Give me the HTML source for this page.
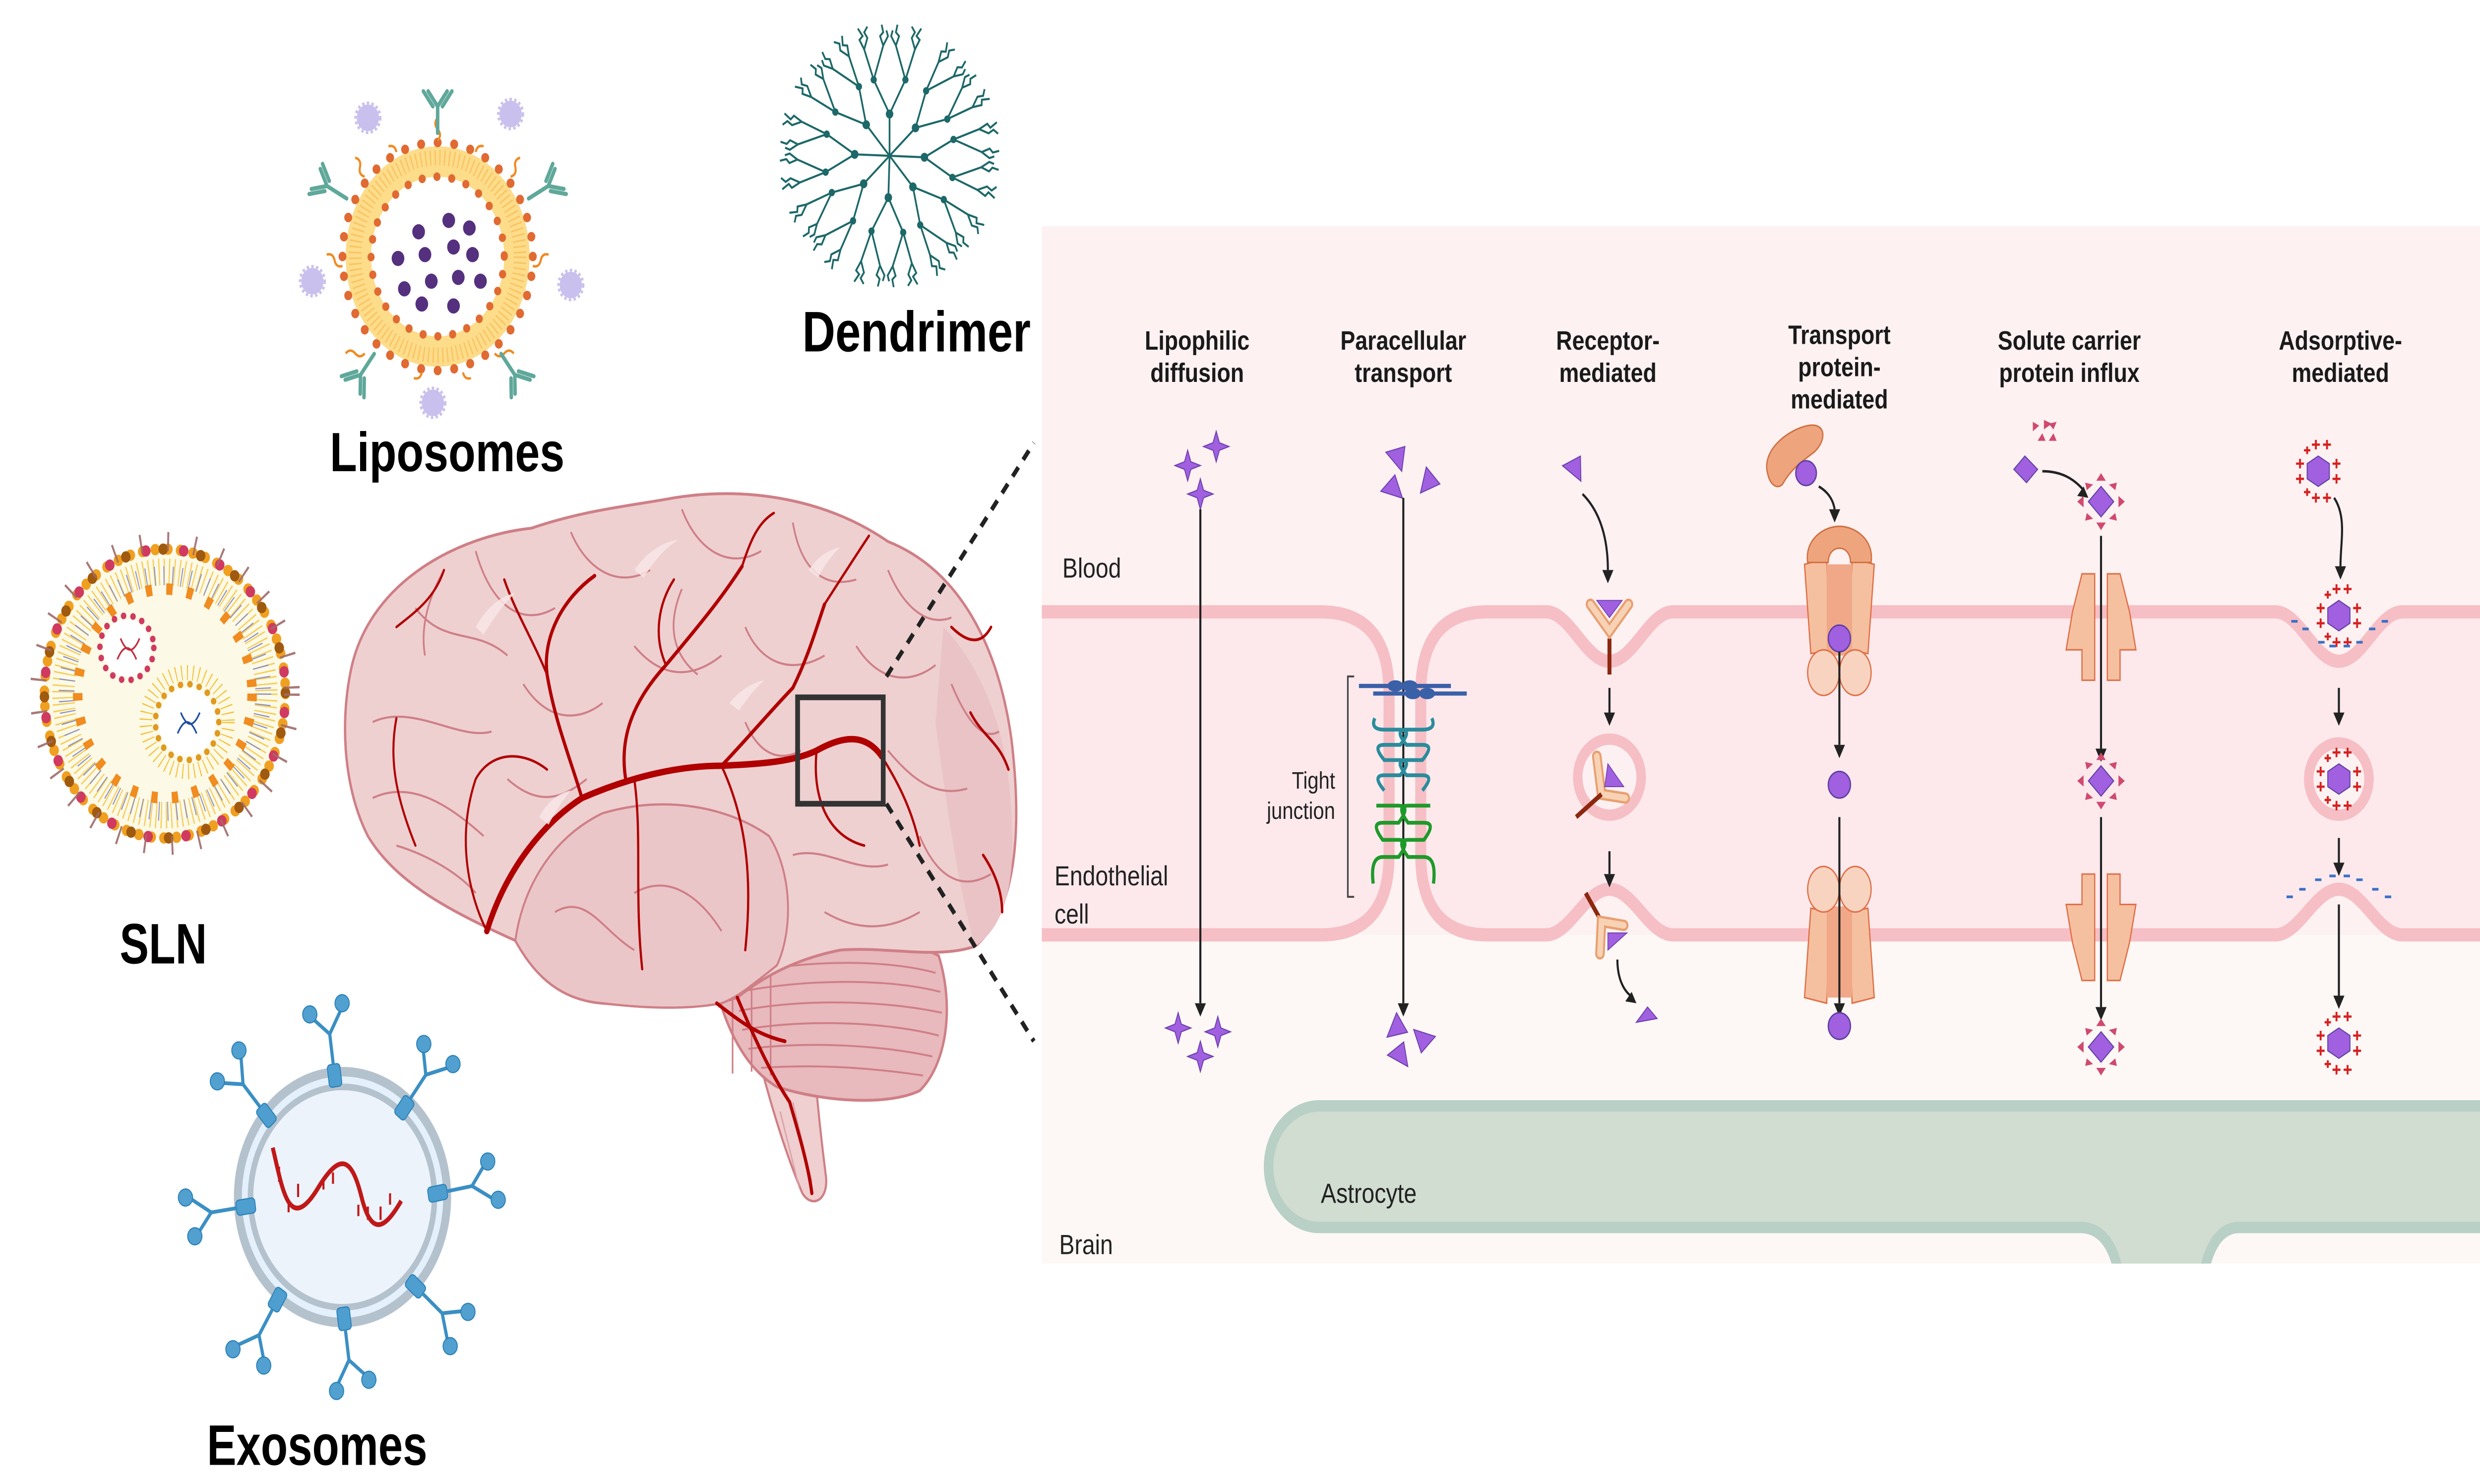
<!DOCTYPE html>
<html><head><meta charset="utf-8"><style>
html,body{margin:0;padding:0;background:#fff;overflow:hidden;width:100%;height:100%}
svg{display:block;position:fixed;left:0;top:0;width:100vw;height:100vh}
text{font-family:"Liberation Sans",sans-serif}
</style></head><body>
<svg viewBox="0 0 1564 781" preserveAspectRatio="none" xmlns="http://www.w3.org/2000/svg">
<defs>
<clipPath id="pc"><rect x="657" y="119" width="907" height="546"/></clipPath>
<polygon id="star" points="0,-8 2,-2 8,0 2,2 0,8 -2,2 -8,0 -2,-2" fill="#a060e0" stroke="#7040b0" stroke-width="0.6"/>
<path id="tri" d="M-6,-4 L6,-7 L4,6 Z" fill="#a060e0" stroke="#7040b0" stroke-width="0.6"/>
<path id="ab" d="M0,0 V-14 M0,-14 L-6,-22 M0,-14 L6,-22 M-3,-14 L-9,-22 M3,-14 L9,-22" stroke="#5fa89a" stroke-width="2.2" fill="none" stroke-linecap="round"/>
<g id="puff"><circle r="7" fill="#c9c0ee"/><circle r="7.8" fill="none" stroke="#c9c0ee" stroke-width="1.5" stroke-dasharray="1.5 1.5"/></g>
<g id="exr"><rect x="-4" y="-6" width="8" height="12" rx="2" fill="#4e9fcf" stroke="#2a80b8" stroke-width="0.6"/><path d="M0,-6 V-22 L-10,-32 M0,-22 L9,-34" stroke="#3a8fc4" stroke-width="2" fill="none"/><circle cx="-11" cy="-34" r="4.5" fill="#52a0cf" stroke="#2a80b8" stroke-width="0.6"/><circle cx="10" cy="-37" r="4.5" fill="#52a0cf" stroke="#2a80b8" stroke-width="0.6"/></g>
<g id="dbr" stroke="#1d6868" stroke-width="1.1" fill="none">
<path d="M0,0 L0,-22 L-10,-40 L-16,-56 M-10,-40 L-4,-58 M0,-22 L10,-40 L16,-56 M10,-40 L4,-58"/>
<path d="M-16,-56 l-3,-5 l2,-2 l-3,-4 M-16,-56 l2,-6 l-2,-3 l2,-3 M-4,-58 l-2,-5 l2,-2 l-1,-4 M-4,-58 l3,-5 l-1,-3 M16,-56 l3,-5 l-2,-2 l3,-4 M16,-56 l-2,-6 l2,-3 l-2,-3 M4,-58 l2,-5 l-2,-2 l1,-4 M4,-58 l-3,-5 l1,-3"/>
<circle cx="0" cy="-22" r="1.8" fill="#1d6868"/><circle cx="-10" cy="-40" r="1.4" fill="#1d6868"/><circle cx="10" cy="-40" r="1.4" fill="#1d6868"/>
</g>
<g id="dia"><path d="M0,-8 L8,0 L0,8 L-8,0 Z" fill="#a060e0" stroke="#6040a0" stroke-width="0.6"/><g fill="#d04a70"><path d="M0,-15 l3,4 h-6z"/><path d="M0,15 l3,-4 h-6z"/><path d="M-15,0 l4,3 v-6z"/><path d="M15,0 l-4,3 v-6z"/><path d="M-10,-10 l5,1 l-4,3z"/><path d="M10,-10 l-5,1 l4,3z"/><path d="M-10,10 l5,-1 l-4,-3z"/><path d="M10,10 l-5,-1 l4,-3z"/></g></g>
<g id="hex"><path d="M0,-8 L7,-4 L7,4 L0,8 L-7,4 L-7,-4 Z" fill="#a060e0" stroke="#6040a0" stroke-width="0.6"/><g stroke="#d82020" stroke-width="1.2"><path d="M-4,-14 h5 M-1.5,-16.5 v5 M3,-14 h5 M5.5,-16.5 v5 M-4,14 h5 M-1.5,11.5 v5 M3,14 h5 M5.5,11.5 v5 M-14,-4 h5 M-11.5,-6.5 v5 M-14,4 h5 M-11.5,1.5 v5 M9,-4 h5 M11.5,-6.5 v5 M9,4 h5 M11.5,1.5 v5 M-9,-11 h4 M-7,-13 v4 M-9,11 h4 M-7,9 v4"/></g></g>
<path id="ah" d="M-3.5,-6 L3.5,-6 L0,1 Z" fill="#222"/>
<g id="tpt"><path d="M-22,-35 L-8,-38 L-6,10 L-18,12 Z" fill="#f5c0a0" stroke="#e07048" stroke-width="0.8"/><path d="M22,-35 L8,-38 L6,10 L18,12 Z" fill="#f5c0a0" stroke="#e07048" stroke-width="0.8"/><rect x="-8" y="-35" width="16" height="48" fill="#f0a888"/><ellipse cx="-10" cy="22" rx="10" ry="12" fill="#f8d4c0" stroke="#e07048" stroke-width="0.8"/><ellipse cx="10" cy="22" rx="10" ry="12" fill="#f8d4c0" stroke="#e07048" stroke-width="0.8"/></g>
<path id="slc" d="M-12,-28 H-4 V28 H-12 V12 H-22 L-18,-8 Z M12,-28 H4 V28 H12 V12 H22 L18,-8 Z" fill="#f5c0a0" stroke="#e07048" stroke-width="0.8"/>
</defs>

<!-- Liposome -->
<g>
<circle cx="276" cy="135" r="58" fill="#fddc8a"/>
<circle cx="276" cy="135" r="52" fill="none" stroke="#f6b44a" stroke-width="8" stroke-dasharray="0.8 2.2" opacity="0.6"/>
<circle cx="276" cy="135" r="42" fill="#fff"/>
<circle cx="276" cy="135" r="60" fill="none" stroke="#e06a32" stroke-width="5" stroke-linecap="round" stroke-dasharray="0 10.47"/>
<circle cx="276" cy="135" r="42" fill="none" stroke="#e06a32" stroke-width="4.5" stroke-linecap="round" stroke-dasharray="0 9.4"/>
<g fill="#55307e"><circle cx="264" cy="122" r="4"/><circle cx="283" cy="116" r="4"/><circle cx="296" cy="120" r="4"/><circle cx="251" cy="136" r="4"/><circle cx="268" cy="134" r="4"/><circle cx="286" cy="130" r="4"/><circle cx="298" cy="134" r="4"/><circle cx="255" cy="152" r="4"/><circle cx="272" cy="148" r="4"/><circle cx="289" cy="146" r="4"/><circle cx="303" cy="148" r="4"/><circle cx="266" cy="160" r="4"/><circle cx="286" cy="161" r="4"/></g>
<g fill="none" stroke="#f08a20" stroke-width="1.3"><path d="M276,74 q3,-3 0,-6 q-3,-3 0,-6"/><path d="M322,93 q4,-1 3,-5 q-1,-4 3,-5"/><path d="M336,140 q4,1 5,-3 q1,-4 5,-3"/><path d="M312,186 q3,3 6,0 q3,-3 6,0"/><path d="M230,186 q-3,3 -6,0 q-3,-3 -6,0"/><path d="M216,140 q-4,1 -5,-3 q-1,-4 -5,-3"/><path d="M230,93 q-4,-1 -3,-5 q1,-4 -3,-5"/><path d="M250,80 q-1,-4 -5,-3"/><path d="M300,80 q1,-4 5,-3"/><path d="M266,196 q-1,4 -5,3"/><path d="M292,196 q1,4 5,3"/></g>
<use href="#ab" transform="translate(276,70)"/>
<use href="#ab" transform="rotate(-62 276 135) translate(276,70)"/>
<use href="#ab" transform="rotate(62 276 135) translate(276,70)"/>
<use href="#ab" transform="rotate(-142 276 135) translate(276,70)"/>
<use href="#ab" transform="rotate(142 276 135) translate(276,70)"/>
<use href="#puff" x="232" y="62"/><use href="#puff" x="322" y="60"/><use href="#puff" x="197" y="148"/><use href="#puff" x="360" y="150"/><use href="#puff" x="273" y="212"/>
<text x="282" y="248" font-size="29" font-weight="bold" text-anchor="middle" textLength="148" lengthAdjust="spacingAndGlyphs">Liposomes</text>
</g>

<!-- Dendrimer -->
<g>
<use href="#dbr" transform="translate(561,82) rotate(0)"/>
<use href="#dbr" transform="translate(561,82) rotate(48)"/>
<use href="#dbr" transform="translate(561,82) rotate(92)"/>
<use href="#dbr" transform="translate(561,82) rotate(138)"/>
<use href="#dbr" transform="translate(561,82) rotate(182)"/>
<use href="#dbr" transform="translate(561,82) rotate(228)"/>
<use href="#dbr" transform="translate(561,82) rotate(272)"/>
<use href="#dbr" transform="translate(561,82) rotate(318)"/>
<text x="578" y="185" font-size="30" font-weight="bold" text-anchor="middle" textLength="144" lengthAdjust="spacingAndGlyphs">Dendrimer</text>
</g>

<!-- SLN -->
<g>
<circle cx="104" cy="365" r="76" fill="#fcf9e6"/>
<circle cx="104" cy="365" r="64" fill="none" stroke="#f5c030" stroke-width="14" stroke-dasharray="0.7 2.5" opacity="0.8"/>
<circle cx="104" cy="365" r="62" fill="none" stroke="#8890c8" stroke-width="10" stroke-dasharray="0.6 5" />
<circle cx="104" cy="365" r="76" fill="none" stroke="#f0a020" stroke-width="6" stroke-linecap="round" stroke-dasharray="0 8"/>
<circle cx="104" cy="365" r="76" fill="none" stroke="#a05a10" stroke-width="6" stroke-linecap="round" stroke-dasharray="0 24" stroke-dashoffset="3"/>
<circle cx="104" cy="365" r="76" fill="none" stroke="#d03a60" stroke-width="6" stroke-linecap="round" stroke-dasharray="0 24" stroke-dashoffset="14"/>
<circle cx="104" cy="365" r="55" fill="none" stroke="#f08c20" stroke-width="6" stroke-dasharray="4 9"/>
<circle cx="104" cy="365" r="80" fill="none" stroke="#a06a6a" stroke-width="10" stroke-dasharray="1.2 16" opacity="0.9"/>
<circle cx="80" cy="341" r="15" fill="#fff"/><circle cx="80" cy="341" r="17" fill="none" stroke="#d03a60" stroke-width="3.5" stroke-linecap="round" stroke-dasharray="0 6"/>
<circle cx="118" cy="380" r="18" fill="#fff"/><circle cx="118" cy="380" r="20" fill="none" stroke="#e09a20" stroke-width="3.5" stroke-linecap="round" stroke-dasharray="0 6"/>
<circle cx="118" cy="380" r="26" fill="none" stroke="#f5c030" stroke-width="8" stroke-dasharray="0.6 3"/>
<path d="M74,347 q6,-12 12,0 M76,336 q6,12 12,0" stroke="#c03040" stroke-width="1" fill="none"/>
<path d="M112,386 q6,-12 12,0 M114,375 q6,12 12,0" stroke="#2050a0" stroke-width="1" fill="none"/>
<text x="103" y="507" font-size="30" font-weight="bold" text-anchor="middle" textLength="55" lengthAdjust="spacingAndGlyphs">SLN</text>
</g>

<!-- Exosome -->
<g>
<circle cx="216" cy="630" r="66" fill="#e4f0fc" stroke="#b4c2ce" stroke-width="5"/>
<circle cx="216" cy="630" r="58" fill="#ecf3fb" stroke="#b4c2ce" stroke-width="3.5"/>
<path d="M172,604 C178,625 182,650 200,626 C215,605 222,610 228,630 C234,650 242,648 253,632" stroke="#c01818" stroke-width="2.5" fill="none"/>
<path d="M176,614 v8 M182,632 v6 M188,630 v-7 M204,620 v6 M210,617 v6 M226,634 v6 M232,642 v-7 M240,642 v-7 M246,634 v-6" stroke="#c01818" stroke-width="1.3"/>
<use href="#exr" transform="translate(211,566) rotate(-8)"/>
<use href="#exr" transform="translate(255,583) rotate(38)"/>
<use href="#exr" transform="translate(276,628) rotate(80)"/>
<use href="#exr" transform="translate(262,677) rotate(130)"/>
<use href="#exr" transform="translate(217,694) rotate(172)"/>
<use href="#exr" transform="translate(175,684) rotate(212)"/>
<use href="#exr" transform="translate(155,635) rotate(262)"/>
<use href="#exr" transform="translate(168,587) rotate(318)"/>
<text x="200" y="771" font-size="30" font-weight="bold" text-anchor="middle" textLength="139" lengthAdjust="spacingAndGlyphs">Exosomes</text>
</g>

<!-- Brain -->
<g>
<!-- brainstem -->
<path d="M478,555 C488,588 498,612 506,628 C512,636 522,632 521,620 C518,600 516,585 514,565 Z" fill="#efcfd0" stroke="#cf7f86" stroke-width="1.3"/>
<path d="M492,585 L504,625 M500,580 L512,622" stroke="#dca0a6" stroke-width="0.8"/>
<!-- cerebellum -->
<path d="M448,505 C480,490 560,488 592,503 C602,530 597,560 580,574 C560,582 520,580 490,572 C470,562 455,540 448,505 Z" fill="#e8b9bd" stroke="#cf7f86" stroke-width="1.5"/>
<g fill="none" stroke="#cf7f86" stroke-width="1"><path d="M470,512 C510,505 560,505 590,512"/><path d="M466,522 C510,515 560,515 593,522"/><path d="M466,532 C510,525 560,527 594,533"/><path d="M468,542 C510,536 560,538 592,545"/><path d="M472,552 C510,548 555,550 588,556"/><path d="M480,562 C515,560 550,562 582,566"/><path d="M462,505 v60 M474,502 v62 M486,500 v66"/></g>
<!-- cerebrum -->
<path d="M222,350 C235,305 290,282 335,278 C370,268 400,266 425,262 C470,256 520,262 560,285 C605,300 630,340 638,390 C645,440 640,480 615,498 C590,505 560,498 530,500 C500,505 480,515 465,525 C440,532 410,530 380,528 C350,526 335,510 325,495 C285,480 250,465 232,440 C215,412 215,375 222,350 Z" fill="#eed0d1" stroke="#cf7f86" stroke-width="1.5"/>
<path d="M325,495 C330,465 350,440 380,428 C420,418 460,425 485,440 C500,460 500,490 490,508 C475,518 465,525 455,528 C430,532 400,530 380,528 C350,526 335,510 325,495 Z" fill="#ebc6c8" stroke="#cf7f86" stroke-width="1.2"/>
<path d="M595,330 C618,350 632,380 636,410 C642,455 638,485 615,498 C605,470 596,420 590,380 Z" fill="#e9c3c6"/>
<g fill="none" stroke="#cf7f86" stroke-width="1.1">
<path d="M262,320 C280,340 300,330 320,345 M300,290 C310,320 330,330 350,320 M360,280 C370,300 390,310 410,300 M430,268 C440,290 460,300 480,290 M500,275 C505,300 520,310 540,305 M560,300 C570,320 585,330 600,325"/>
<path d="M235,380 C260,370 290,390 310,385 M330,360 C345,380 365,380 380,370 M400,340 C420,360 440,355 455,345 M470,330 C480,350 500,355 520,345 M540,340 C555,360 575,360 590,350"/>
<path d="M235,420 C260,410 285,425 305,440 M320,410 C340,425 355,420 370,410 M470,380 C480,400 495,400 505,395 M560,395 C575,410 590,420 610,415 M600,360 C610,380 620,390 630,385"/>
<path d="M400,470 C420,460 440,470 455,490 M500,450 C520,445 540,460 560,455 M580,440 C590,460 605,470 625,460 M520,480 C540,490 560,490 580,480 M350,480 C370,470 380,490 400,500"/>
<path d="M250,445 C270,450 290,460 300,470 M280,300 C270,315 265,330 268,345 M430,310 C420,330 425,345 440,355"/>
</g>
<g fill="none" stroke="#b00000" stroke-linecap="round">
<path d="M307,490 C320,455 345,432 367,420 C400,408 430,403 455,403 C480,402 500,401 515,395 C530,388 545,385 556,398" stroke-width="3.4"/>
<path d="M367,420 C360,400 350,380 345,355 C342,335 355,315 375,303 M395,412 C390,390 398,370 420,350 C440,330 455,315 468,298 M455,403 C470,390 485,375 500,362 C510,345 515,330 520,318" stroke-width="2"/>
<path d="M345,355 C335,335 325,322 318,305 M420,350 C412,335 415,318 425,305 M468,298 C473,285 478,275 488,270 M520,318 C530,305 540,292 548,282" stroke-width="1.4"/>
<path d="M307,490 C295,470 288,440 300,410 C310,395 330,395 345,405 M262,445 C250,420 245,400 250,378 M250,330 C262,322 274,315 280,300" stroke-width="1.3"/>
<path d="M400,410 C405,440 400,470 405,510 M455,403 C470,430 475,460 470,500 M515,395 C512,420 522,440 545,445 M556,398 C565,410 575,425 580,445" stroke-width="1.4"/>
<path d="M452,528 C470,540 480,545 495,548 M465,525 C480,555 490,570 498,580 C505,600 510,615 512,628" stroke-width="2"/>
<path d="M600,330 C612,340 620,338 625,330 M612,375 C620,388 630,390 636,405 M620,450 C628,460 632,470 632,480" stroke-width="1.5"/>
</g>
<g fill="#f8e6e6" opacity="0.85"><path d="M300,330 q10,-15 25,-18 q-10,8 -20,22z"/><path d="M400,300 q12,-14 28,-16 q-12,6 -22,20z"/><path d="M340,430 q8,-12 20,-14 q-8,8 -14,18z"/><path d="M460,370 q10,-10 22,-12 q-8,6 -16,16z"/><path d="M510,300 q8,-10 20,-12 q-8,6 -14,16z"/></g>
<rect x="503" y="367" width="54" height="56" fill="none" stroke="#333" stroke-width="3"/>
<path d="M559,356 L652,233 M559,423 L652,548" stroke="#222" stroke-width="2.5" stroke-dasharray="6 5"/>
</g>

<!-- Right panel -->
<g clip-path="url(#pc)">
<rect x="657" y="119" width="907" height="546" fill="#fdf1f2"/>
<rect x="657" y="492" width="907" height="173" fill="#fdf8f5"/>
<path d="M640,322 H833 Q876,322 876,365 V450 Q876,492 833,492 H640 Z" fill="#fde9ec" stroke="#f6bfc5" stroke-width="7"/>
<path d="M1580,322 H1515 C1500,322 1490,348 1475,348 C1460,348 1450,322 1435,322 H1055 C1040,322 1030,348 1015,348 C1000,348 990,322 975,322 H938 Q896,322 896,365 V450 Q896,492 938,492 H975 C990,492 1000,468 1015,468 C1030,468 1040,492 1055,492 H1435 C1450,492 1460,468 1475,468 C1490,468 1500,492 1515,492 H1580 Z" fill="#fde9ec" stroke="#f6bfc5" stroke-width="7"/>
<path d="M832,582 H1580 V646 H1412 C1398,646 1392,660 1390,670 H1336 C1334,660 1328,646 1312,646 H832 A32,32 0 0 1 832,582 Z" fill="#d0ddd0" stroke="#b8d0c6" stroke-width="6"/>
</g>

<g font-size="14.5" fill="#222">
<text x="670" y="304">Blood</text>
<text x="665" y="466">Endothelial</text><text x="665" y="486">cell</text>
<text x="668" y="660">Brain</text>
<text x="833" y="633">Astrocyte</text>
<text x="842" y="415" font-size="12.5" text-anchor="end">Tight</text><text x="842" y="431" font-size="12.5" text-anchor="end">junction</text>
</g>
<g font-size="14" font-weight="bold" fill="#1a1a1a" text-anchor="middle">
<text x="755" y="184">Lipophilic</text><text x="755" y="201">diffusion</text>
<text x="885" y="184">Paracellular</text><text x="885" y="201">transport</text>
<text x="1014" y="184">Receptor-</text><text x="1014" y="201">mediated</text>
<text x="1160" y="181">Transport</text><text x="1160" y="198">protein-</text><text x="1160" y="215">mediated</text>
<text x="1305" y="184">Solute carrier</text><text x="1305" y="201">protein influx</text>
<text x="1476" y="184">Adsorptive-</text><text x="1476" y="201">mediated</text>
</g>

<!-- Lipophilic -->
<use href="#star" x="767" y="235"/><use href="#star" x="749" y="245"/><use href="#star" x="757" y="260"/>
<line x1="757" y1="268" x2="757" y2="528" stroke="#222" stroke-width="1.3"/><use href="#ah" x="757" y="534"/>
<use href="#star" x="743" y="541"/><use href="#star" x="768" y="543"/><use href="#star" x="757" y="556"/>

<!-- Paracellular -->
<use href="#tri" x="880" y="242"/><use href="#tri" x="899" y="253" transform="rotate(60 899 253)"/><use href="#tri" x="878" y="259" transform="rotate(-30 878 259)"/>
<line x1="885" y1="262" x2="885" y2="528" stroke="#222" stroke-width="1.3"/><use href="#ah" x="885" y="534"/>
<use href="#tri" x="879" y="540" transform="rotate(70 879 540)"/><use href="#tri" x="898" y="545" transform="rotate(150 898 545)"/><use href="#tri" x="882" y="557" transform="rotate(-20 882 557)"/>
<path d="M854,356 H850 V472 H854" fill="none" stroke="#444" stroke-width="1"/>
<path d="M857,361 H915 M866,365 H925" stroke="#3a60a8" stroke-width="2.2"/>
<g fill="#3a60a8"><ellipse cx="880" cy="361" rx="5" ry="3"/><ellipse cx="889" cy="361" rx="5" ry="3"/><ellipse cx="891" cy="365" rx="5" ry="3"/><ellipse cx="900" cy="365" rx="5" ry="3"/></g>
<path d="M867,378 q-3,6 6,6 h10 q8,0 0,8 h-10 q-8,0 0,8 h10 q8,0 0,8 h-10 q-8,0 0,8 M903,378 q3,6 -6,6 h-10 q-8,0 0,8 h10 q8,0 0,8 h-10 q-8,0 0,8 h10 q8,0 0,8" fill="none" stroke="#2a8c9c" stroke-width="2"/>
<path d="M868,424 h14 q8,0 0,9 h-10 q-8,0 0,9 h10 q8,0 0,9 h-10 q-8,0 -6,14 M902,424 h-14 q-8,0 0,9 h10 q8,0 0,9 h-10 q-8,0 0,9 h10 q8,0 6,14" fill="none" stroke="#1e9a2a" stroke-width="2"/>

<!-- Receptor -->
<use href="#tri" x="992" y="248" transform="rotate(-10 992 248)"/>
<path d="M998,260 C1010,270 1014,285 1014,300" fill="none" stroke="#222" stroke-width="1.3"/><use href="#ah" x="1014" y="306"/>
<path d="M1015,336 V355" stroke="#8c2810" stroke-width="2.5"/>
<path d="M1003,318 L1015,332 L1027,318" fill="none" stroke="#e8a070" stroke-width="6" stroke-linecap="round"/><path d="M1003,318 L1015,332 L1027,318" fill="none" stroke="#f8d2b4" stroke-width="3.5" stroke-linecap="round"/>
<path d="M1007,316 H1023 L1015,325 Z" fill="#a060e0" stroke="#7040b0" stroke-width="0.5"/>
<line x1="1015" y1="362" x2="1015" y2="376" stroke="#222" stroke-width="1.3"/><use href="#ah" x="1015" y="381"/>
<circle cx="1015" cy="409" r="20" fill="#fdf0f2" stroke="#f6bfc5" stroke-width="6"/>
<path d="M1007,398 L1010,418 L1025,420" fill="none" stroke="#e8a070" stroke-width="6" stroke-linecap="round"/><path d="M1007,398 L1010,418 L1025,420" fill="none" stroke="#f8d2b4" stroke-width="3.5" stroke-linecap="round"/>
<path d="M1014,402 L1024,414 L1012,414 Z" fill="#a060e0" stroke="#7040b0" stroke-width="0.5"/>
<path d="M1010,418 L994,430" stroke="#8c2810" stroke-width="2.5"/>
<line x1="1015" y1="448" x2="1015" y2="460" stroke="#222" stroke-width="1.3"/><use href="#ah" x="1015" y="466"/>
<path d="M1000,470 L1010,485" stroke="#8c2810" stroke-width="2.5"/>
<path d="M1009,502 L1010,485 L1024,487" fill="none" stroke="#e8a070" stroke-width="6" stroke-linecap="round"/><path d="M1009,502 L1010,485 L1024,487" fill="none" stroke="#f8d2b4" stroke-width="3.5" stroke-linecap="round"/>
<path d="M1014,491 L1026,491 L1014,500 Z" fill="#a060e0" stroke="#7040b0" stroke-width="0.5"/>
<path d="M1020,505 C1020,515 1024,522 1030,525" fill="none" stroke="#222" stroke-width="1.3"/><path d="M1032,528 l-7,-1 l4,-5z" fill="#222"/>
<path d="M1032,538 L1045,536 L1039,530 Z" fill="#a060e0" stroke="#7040b0" stroke-width="0.6"/>

<!-- Transport protein -->
<path d="M1115,250 C1110,237 1128,226 1140,224 C1152,222 1152,232 1144,238 C1138,242 1130,246 1124,255 C1120,258 1116,254 1115,250 Z" fill="#eea57e" stroke="#d07040" stroke-width="0.8"/>
<circle cx="1139" cy="249" r="6.5" fill="#a060e0" stroke="#6040a0" stroke-width="0.8"/>
<path d="M1147,256 C1153,259 1156,263 1157,268" fill="none" stroke="#222" stroke-width="1.3"/><use href="#ah" x="1157" y="274"/>
<use href="#tpt" x="1160" y="332"/>
<path d="M1140,296 C1138,284 1150,277 1160,277 C1170,277 1182,284 1180,296 H1167 C1167,286 1153,286 1153,296 Z" fill="#eea57e" stroke="#d07040" stroke-width="0.8"/>
<circle cx="1160" cy="336" r="7" fill="#a060e0" stroke="#6040a0" stroke-width="0.8"/>
<line x1="1160" y1="343" x2="1160" y2="392" stroke="#222" stroke-width="1.3"/><use href="#ah" x="1160" y="398"/>
<circle cx="1160" cy="413" r="7" fill="#a060e0" stroke="#6040a0" stroke-width="0.8"/>
<use href="#tpt" transform="translate(1160,490) rotate(180)"/>
<line x1="1160" y1="430" x2="1160" y2="528" stroke="#222" stroke-width="1.3"/><use href="#ah" x="1160" y="534"/>
<circle cx="1160" cy="540" r="7" fill="#a060e0" stroke="#6040a0" stroke-width="0.8"/>

<!-- Solute carrier -->
<g fill="#d04a70"><path d="M1282,222 l4,2 l-4,3z"/><path d="M1289,221 l5,2 l-5,3z"/><path d="M1297,222 l-5,1 l3,3z"/><path d="M1285,232 l3,-4 l2,4z"/><path d="M1292,232 l3,-4 l2,4z"/></g>
<path d="M1277,240 L1285,247 L1278,254 L1270,247 Z" fill="#a060e0" stroke="#6040a0" stroke-width="0.6"/>
<path d="M1288,248 C1300,248 1308,252 1314,258" fill="none" stroke="#222" stroke-width="1.3"/><path d="M1317,262 l-7,-1 l4,-5z" fill="#222"/>
<use href="#dia" x="1325" y="264"/>
<use href="#slc" x="1325" y="330"/>
<line x1="1325" y1="282" x2="1325" y2="394" stroke="#222" stroke-width="1.3"/><use href="#ah" x="1325" y="400"/>
<use href="#dia" x="1325" y="411"/>
<use href="#slc" transform="translate(1325,488) rotate(180)"/>
<line x1="1325" y1="430" x2="1325" y2="530" stroke="#222" stroke-width="1.3"/><use href="#ah" x="1325" y="536"/>
<use href="#dia" x="1325" y="551"/>

<!-- Adsorptive -->
<use href="#hex" x="1462" y="248"/>
<path d="M1472,262 C1480,272 1476,285 1476,298" fill="none" stroke="#222" stroke-width="1.3"/><use href="#ah" x="1476" y="304"/>
<use href="#hex" x="1475" y="324"/>
<g stroke="#3a70c8" stroke-width="1.4"><path d="M1445,327 h4 M1452,331 h4 M1462,338 h4 M1469,340 h4 M1478,340 h4 M1486,338 h4 M1494,331 h4 M1502,327 h4 M1442,472 h4 M1450,468 h4 M1460,463 h4 M1469,461 h4 M1478,461 h4 M1486,463 h4 M1496,468 h4 M1504,472 h4"/></g>
<line x1="1475" y1="362" x2="1475" y2="376" stroke="#222" stroke-width="1.3"/><use href="#ah" x="1475" y="381"/>
<circle cx="1475" cy="410" r="19" fill="#fdf2f2" stroke="#f6bfc5" stroke-width="6"/>
<use href="#hex" x="1475" y="410"/>
<line x1="1475" y1="441" x2="1475" y2="455" stroke="#222" stroke-width="1.3"/><use href="#ah" x="1475" y="460"/>
<line x1="1475" y1="476" x2="1475" y2="524" stroke="#222" stroke-width="1.3"/><use href="#ah" x="1475" y="530"/>
<use href="#hex" x="1475" y="549"/>
</svg>
</body></html>
